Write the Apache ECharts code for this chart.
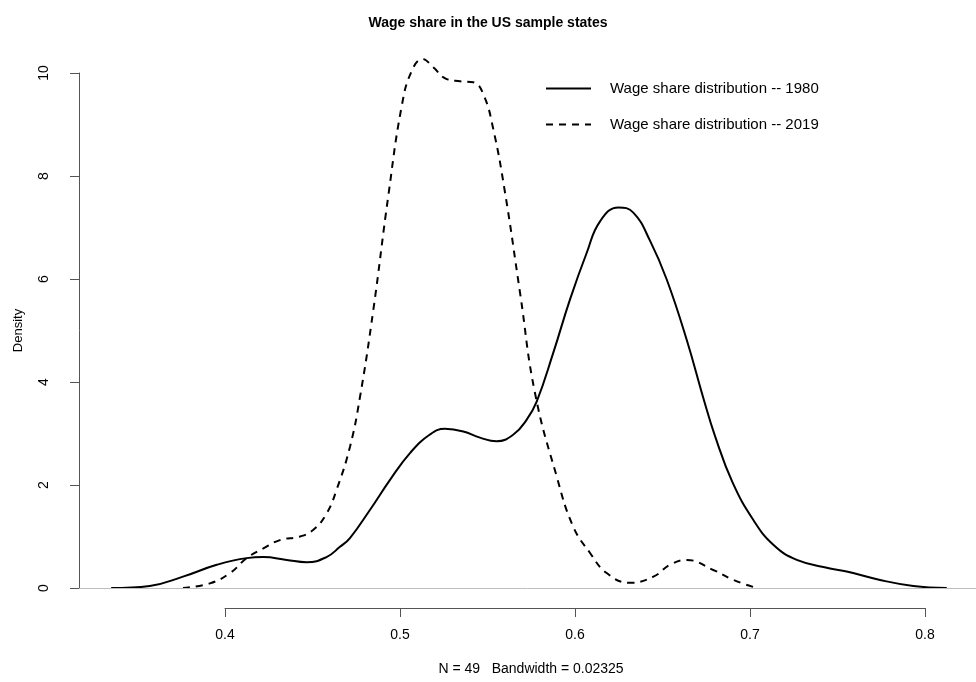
<!DOCTYPE html>
<html>
<head>
<meta charset="utf-8">
<title>Wage share in the US sample states</title>
<script src="https://cdn.jsdelivr.net/npm/echarts@6/dist/echarts.min.js"></script>
<style>
  html, body { margin: 0; padding: 0; background: #fff; }
  #chart { width: 976px; height: 682px; }
</style>
</head>
<body>
<div id="chart"></div>
<script>
// density estimates
const x1980 = [0.335, 0.357, 0.376, 0.3953, 0.4124, 0.4219, 0.4352, 0.4467, 0.458, 0.4657, 0.4714, 0.4829, 0.4943, 0.5057, 0.5171, 0.5257, 0.5362, 0.5457, 0.5552, 0.5648, 0.5724, 0.5781, 0.5876, 0.5971, 0.6067, 0.6143, 0.6248, 0.6333, 0.6429, 0.6524, 0.6638, 0.6733, 0.68, 0.69, 0.7019, 0.7133, 0.7267, 0.7457, 0.7552, 0.7743, 0.7933, 0.8124];
const d1980 = [0, 0.04, 0.22, 0.45, 0.58, 0.60, 0.545, 0.50, 0.60, 0.80, 0.97, 1.52, 2.10, 2.62, 2.98, 3.09, 3.04, 2.92, 2.85, 2.98, 3.27, 3.62, 4.57, 5.60, 6.51, 7.12, 7.39, 7.29, 6.74, 5.99, 4.82, 3.69, 2.95, 2.05, 1.32, 0.84, 0.545, 0.38, 0.32, 0.156, 0.04, 0];

const x2019 = [0.376, 0.3914, 0.4029, 0.4124, 0.4219, 0.4314, 0.4429, 0.4505, 0.4581, 0.4638, 0.4714, 0.4771, 0.4848, 0.4933, 0.501, 0.5067, 0.513, 0.519, 0.5267, 0.5343, 0.5419, 0.5476, 0.5533, 0.56, 0.5686, 0.5771, 0.5895, 0.599, 0.6086, 0.6181, 0.6314, 0.6448, 0.6543, 0.6638, 0.679, 0.6905, 0.7038];
const d2019 = [0, 0.09, 0.29, 0.58, 0.77, 0.93, 1.0, 1.13, 1.45, 1.91, 2.74, 3.70, 5.41, 7.61, 9.36, 10.04, 10.27, 10.11, 9.88, 9.84, 9.82, 9.59, 8.91, 7.68, 5.73, 3.79, 2.17, 1.19, 0.68, 0.29, 0.10, 0.22, 0.45, 0.545, 0.35, 0.156, 0];

const seriesNames = ['Wage share distribution -- 1980', 'Wage share distribution -- 2019'];
const xTicks = [0.4, 0.5, 0.6, 0.7, 0.8];
const yTicks = [0, 2, 4, 6, 8, 10];

const pairs = (xs, ys) => xs.map((x, i) => [x, ys[i]]);

const font = 'Liberation Sans, Arial, Helvetica, sans-serif';
const axisGray = '#555';

const chart = echarts.init(document.getElementById('chart'));

chart.setOption({
  backgroundColor: '#fff',
  animation: false,
  textStyle: { fontFamily: font },
  title: {
    text: 'Wage share in the US sample states',
    left: 'center',
    top: 11,
    textStyle: { fontSize: 14, fontWeight: 'bold', color: '#000', fontFamily: font }
  },
  legend: {
    orient: 'vertical',
    left: 540,
    top: 76,
    itemWidth: 45,
    itemHeight: 14,
    itemGap: 21,
    data: seriesNames,
    itemStyle: { opacity: 0 },
    textStyle: { fontSize: 15, color: '#000', fontFamily: font, padding: [0, 0, 0, 14] }
  },
  grid: [
    // plotting region
    { left: 79, right: 0, top: 73, bottom: 94 },
    // holder for the detached x axis (R style)
    { left: 225, right: 51, top: 607, height: 1 }
  ],
  xAxis: [
    { gridIndex: 0, type: 'value', min: 0.3166, max: 0.8291, show: false },
    {
      gridIndex: 1, type: 'value', min: xTicks[0], max: xTicks[xTicks.length - 1], interval: 0.1,
      position: 'bottom',
      axisLine: { show: true, lineStyle: { color: axisGray, width: 1 } },
      axisTick: { show: true, length: 9, lineStyle: { color: axisGray } },
      axisLabel: { fontSize: 14, color: '#000', margin: 20, formatter: v => v.toFixed(1) },
      splitLine: { show: false }
    }
  ],
  yAxis: [
    {
      gridIndex: 0, type: 'value', min: yTicks[0], max: yTicks[yTicks.length - 1], interval: 2,
      name: 'Density', nameLocation: 'middle', nameGap: 54,
      nameTextStyle: { fontSize: 13, color: '#000' },
      axisLine: { show: true, lineStyle: { color: axisGray, width: 1 } },
      axisTick: { show: true, length: 9, lineStyle: { color: axisGray } },
      axisLabel: { fontSize: 14, color: '#000', rotate: 90, margin: 28 },
      splitLine: { show: false }
    },
    { gridIndex: 1, type: 'value', show: false }
  ],
  graphic: [{
    type: 'text',
    x: 531,
    y: 669,
    style: {
      text: 'N = 49   Bandwidth = 0.02325',
      font: '14px ' + font,
      fill: '#000',
      align: 'center',
      verticalAlign: 'middle'
    }
  }],
  series: [
    {
      name: seriesNames[0],
      type: 'line',
      data: pairs(x1980, d1980),
      smooth: 0.45,
      showSymbol: false,
      symbol: 'none',
      clip: false,
      lineStyle: { color: '#000', width: 2, type: 'solid' },
      itemStyle: { color: '#000' },
      markLine: {
        silent: true,
        symbol: 'none',
        label: { show: false },
        lineStyle: { color: '#bebebe', width: 1, type: 'solid' },
        data: [{ yAxis: 0 }]
      },
      z: 3
    },
    {
      name: seriesNames[1],
      type: 'line',
      data: pairs(x2019, d2019),
      smooth: 0.45,
      showSymbol: false,
      symbol: 'none',
      clip: false,
      lineStyle: { color: '#000', width: 2, type: [7, 6] },
      itemStyle: { color: '#000' },
      z: 3
    }
  ]
});
</script>
</body>
</html>
